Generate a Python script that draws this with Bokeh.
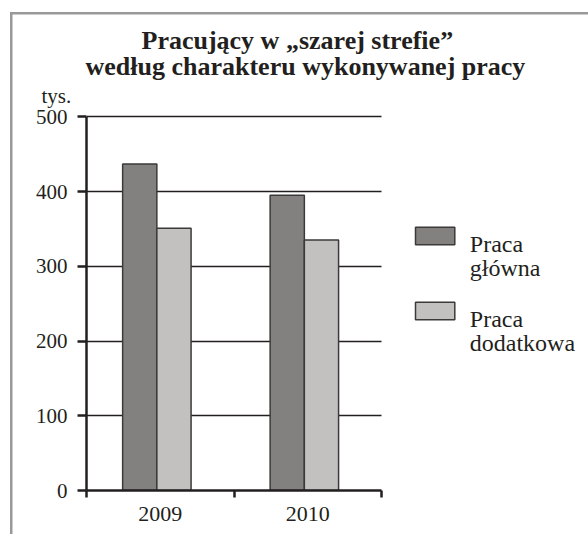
from bokeh.plotting import figure
from bokeh.models import Range1d, FixedTicker, Title, Label
from bokeh.embed import file_html
from bokeh.resources import INLINE

# ---- data ----
years = ["2009", "2010"]
praca_glowna = [437, 395]
praca_dodatkowa = [351, 335]
y_ticks = [0, 100, 200, 300, 400, 500]
series_names = ["Praca główna", "Praca dodatkowa"]
title_lines = ["Pracujący w „szarej strefie”", "według charakteru wykonywanej pracy"]
unit_label = "tys."

# ---- styling ----
FONT = "Liberation Serif"
TXT = "#231f20"
DARK = "#828180"
LIGHT = "#c2c1bf"
EDGE = "#3c3a39"

W, H = 588, 534
L, T, B = 86, 113, 44
PLOT_RIGHT = 381          # pixel where the category axis ends
n = len(years)
YTOP = y_ticks[-1]
YEND = 504.4
XEND = n * (W - L) / (PLOT_RIGHT - L)   # frame extends to the right edge (legend area)

p = figure(width=W, height=H, output_backend="svg", toolbar_location=None,
           x_range=Range1d(0, XEND), y_range=Range1d(0, YEND),
           min_border_left=L, min_border_right=0, min_border_top=T, min_border_bottom=B)
p.outline_line_color = None
p.background_fill_color = "white"
p.border_fill_alpha = 0
p.styles = {
    "background": "linear-gradient(#999999,#999999) 10px 12px / 2.5px 700px no-repeat, "
                  "linear-gradient(#999999,#999999) 10px 12px / 700px 2.5px no-repeat, white"
}

# pixel -> data helpers for legend placement
FB = H - B
def X(px):
    return (px - L) * n / (PLOT_RIGHT - L)
def Y(py):
    return (FB - py) * YEND / (FB - T)

# grid (limited to the category area)
p.xgrid.visible = False
g = p.ygrid[0]
g.ticker = FixedTicker(ticks=y_ticks)
g.grid_line_color = TXT
g.grid_line_width = 1.3
if "cross_bounds" in g.properties():
    g.cross_bounds = (0, n)
else:
    g.visible = False
    p.segment(x0=[0] * len(y_ticks), x1=[n] * len(y_ticks), y0=y_ticks, y1=y_ticks,
              line_color=TXT, line_width=1.3, level="underlay")

# bars
bw = 0.232
p.vbar(x=[i + 0.361 for i in range(n)], top=praca_glowna, width=bw,
       fill_color=DARK, line_color=EDGE, line_width=1.5)
p.vbar(x=[i + 0.593 for i in range(n)], top=praca_dodatkowa, width=bw,
       fill_color=LIGHT, line_color=EDGE, line_width=1.5)

# y axis
ya = p.yaxis[0]
ya.ticker = FixedTicker(ticks=y_ticks, minor_ticks=[])
ya.bounds = (0, YTOP)
ya.axis_line_width = 2.5
ya.axis_line_color = TXT
ya.major_tick_out = 9
ya.major_tick_in = 0
ya.major_tick_line_width = 2.5
ya.major_tick_line_color = TXT
ya.minor_tick_line_color = None
ya.major_label_text_font = FONT
ya.major_label_text_font_size = "21px"
ya.major_label_text_color = TXT
ya.major_label_standoff = 10

# x axis
xa = p.xaxis[0]
xa.ticker = FixedTicker(ticks=[i + 0.5 for i in range(n)], minor_ticks=list(range(n + 1)))
xa.bounds = (0, n)
xa.major_label_overrides = {i + 0.5: y for i, y in enumerate(years)}
xa.axis_line_width = 2.5
xa.axis_line_color = TXT
xa.major_tick_line_color = None
xa.major_tick_out = 0
xa.minor_tick_out = 7
xa.minor_tick_in = 0
xa.minor_tick_line_width = 2.5
xa.minor_tick_line_color = TXT
xa.major_label_text_font = FONT
xa.major_label_text_font_size = "22px"
xa.major_label_text_color = TXT
xa.major_label_standoff = 9

# titles (first added = nearest the frame)
p.add_layout(Title(text=unit_label, align="left", offset=-45, standoff=11,
                   text_font=FONT, text_font_size="21px", text_font_style="normal",
                   text_color=TXT), "above")
p.add_layout(Title(text=title_lines[1], align="left", offset=-1, standoff=-9,
                   text_font=FONT, text_font_size="26px", text_font_style="bold",
                   text_color=TXT), "above")
p.add_layout(Title(text=title_lines[0], align="left", offset=55, standoff=0,
                   text_font=FONT, text_font_size="26px", text_font_style="bold",
                   text_color=TXT), "above")

# legend (drawn in the free area right of the bars)
sw_tops = [226.7, 301.7]
sw_h = 17.6
line_gap = 24.4
for name, col, top_py in zip(series_names, [DARK, LIGHT], sw_tops):
    p.quad(left=[X(415)], right=[X(454.3)], top=[Y(top_py)], bottom=[Y(top_py + sw_h)],
           fill_color=col, line_color=EDGE, line_width=1.5)
    for k, word in enumerate(name.split(" ")):
        p.add_layout(Label(x=X(469.3), y=Y(top_py + 16.6 + line_gap * k), text=word,
                           text_align="left", text_baseline="alphabetic",
                           text_font=FONT, text_font_size="24px", text_color=TXT))

open("out.html", "w").write(file_html(p, INLINE))
